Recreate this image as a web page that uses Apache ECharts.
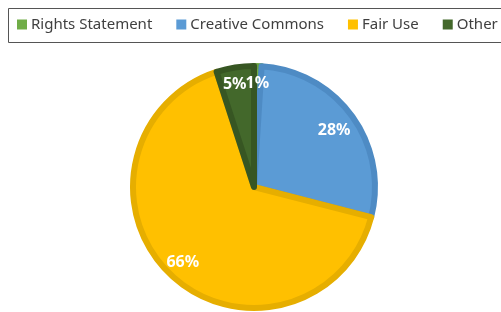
<!DOCTYPE html>
<html>
<head>
<meta charset="utf-8">
<script src="https://cdn.jsdelivr.net/npm/echarts@6/dist/echarts.min.js"></script>
<style>
  html, body { margin: 0; padding: 0; background: #fff; }
  #chart { width: 501px; height: 312px; }
</style>
</head>
<body>
<div id="chart"></div>
<script>
var categories = ['Rights Statement', 'Creative Commons', 'Fair Use', 'Other']
var shares = [1, 28, 66, 5]

var fills = ['#70AD47', '#5B9BD5', '#FFC000', '#43682B']
var edges = ['#66A03F', '#4E8BC4', '#E6AE00', '#375623']
// small label nudges so the two thin slices' labels sit side by side
var labelNudge = { 'Creative Commons': [-4, 5], 'Other': [-3, 0] }

var chart = echarts.init(document.getElementById('chart'))

function sliceData (withStyle) {
  return categories.map(function (name, i) {
    var item = { name: name, value: shares[i] }
    if (withStyle) {
      item.itemStyle = { color: fills[i], borderColor: edges[i] }
    } else if (labelNudge[name]) {
      item.label = { offset: labelNudge[name] }
    }
    return item
  })
}

chart.setOption({
  animation: false,
  color: fills,
  graphic: [{
    type: 'rect',
    shape: { x: 8.5, y: 8.5, width: 520, height: 34 },
    style: { fill: 'none', stroke: '#555', lineWidth: 1 }
  }],
  legend: {
    data: categories,
    left: 17,
    top: 17,
    padding: 0,
    itemWidth: 10,
    itemHeight: 10,
    itemGap: 24,
    icon: 'rect',
    itemStyle: { borderWidth: 0 },
    textStyle: { fontFamily: 'Noto Sans', fontSize: 15, color: '#404040', padding: [0, 0, 0, -1] }
  },
  series: [
    {
      type: 'pie',
      center: [254, 187],
      radius: [0, 121],
      startAngle: 90,
      clockwise: true,
      silent: true,
      label: { show: false },
      labelLine: { show: false },
      itemStyle: { borderWidth: 6 },
      data: sliceData(true)
    },
    {
      type: 'pie',
      center: [254, 187],
      radius: [78, 124],
      startAngle: 90,
      clockwise: true,
      silent: true,
      legendHoverLink: false,
      itemStyle: { color: 'rgba(0,0,0,0)' },
      labelLayout: { hideOverlap: false },
      label: {
        show: true,
        position: 'inside',
        formatter: '{c}%',
        color: '#fff',
        fontWeight: 'bold',
        fontSize: 16,
        fontFamily: 'Noto Sans'
      },
      labelLine: { show: false },
      data: sliceData(false)
    }
  ]
})
</script>
</body>
</html>
